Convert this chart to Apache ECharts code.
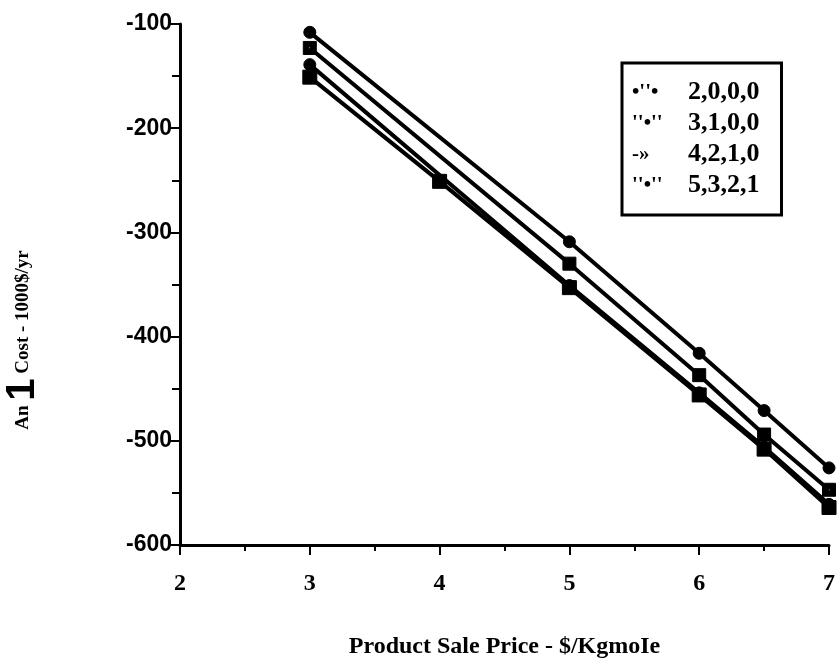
<!DOCTYPE html>
<html>
<head>
<meta charset="utf-8">
<script src="https://cdn.jsdelivr.net/npm/echarts@6/dist/echarts.min.js"></script>
<style>html,body{margin:0;padding:0;background:#fff}#c{width:838px;height:664px}</style>
</head>
<body>
<div id="c"></div>
<script>
// ---- data ----
const seriesNames = ["2,0,0,0", "3,1,0,0", "4,2,1,0", "5,3,2,1"];
const legendGlyphs = ["\u2022''\u2022", "''\u2022''", "-\u00bb", "''\u2022''"];
const price123 = [3, 5, 6, 6.5, 7];
const price4 = [3, 4, 5, 6, 6.5, 7];
const cost1 = [-108, -309, -416, -471, -526];
const cost2 = [-123, -330, -437, -494, -547];
const cost3 = [-139, -351, -454, -506, -561];
const cost4 = [-151, -251, -353, -456, -508, -564];
const xTitle = "Product Sale Price - $/KgmoIe";
const yTitleParts = ["An ", "1", " Cost - 1000$/yr"];

const zip = (xs, ys) => xs.map((x, i) => [x, ys[i]]);
const dotSquare = 'path://M0,0 L10,0 L10,10 L0,10 Z M4.2,4.2 L4.2,5.8 L5.8,5.8 L5.8,4.2 Z';
const symbols = ['circle', dotSquare, 'circle', 'rect'];
const sizes = [12, 13, 12, 14];
const dataSets = [zip(price123, cost1), zip(price123, cost2), zip(price123, cost3), zip(price4, cost4)];

const chart = echarts.init(document.getElementById('c'));
const serif = "'Liberation Serif', 'Times New Roman', serif";
const sans = "'Liberation Sans', Arial, sans-serif";

chart.setOption({
  animation: false,
  backgroundColor: '#fff',
  grid: { left: 180, right: 6, top: 24, bottom: 116 },
  xAxis: {
    type: 'value', min: 2, max: 7, interval: 1,
    name: xTitle, nameLocation: 'middle', nameGap: 90,
    nameTextStyle: { fontFamily: serif, fontWeight: 'bold', fontSize: 24, color: '#000' },
    axisLine: { lineStyle: { color: '#000', width: 3 } },
    axisTick: { show: true, inside: false, length: 10, lineStyle: { color: '#000', width: 2 } },
    minorTick: { show: true, splitNumber: 2, length: 6, lineStyle: { color: '#000', width: 2 } },
    splitLine: { show: false },
    axisLabel: { fontFamily: serif, fontWeight: 'bold', fontSize: 24, color: '#000', margin: 27 }
  },
  yAxis: {
    type: 'value', min: -600, max: -100, interval: 100,
    axisLine: { show: true, lineStyle: { color: '#000', width: 3 } },
    axisTick: { show: true, inside: false, length: 12, lineStyle: { color: '#000', width: 2 } },
    minorTick: { show: true, splitNumber: 2, length: 8, lineStyle: { color: '#000', width: 2 } },
    splitLine: { show: false },
    axisLabel: { fontFamily: sans, fontWeight: 'bold', fontSize: 23, color: '#000', margin: 8 }
  },
  legend: {
    orient: 'vertical', left: 622, top: 63,
    data: seriesNames,
    icon: 'rect', itemWidth: 1, itemHeight: 31, itemGap: 0,
    itemStyle: { opacity: 0 },
    padding: [14, 22, 14, 4],
    borderColor: '#000', borderWidth: 3,
    backgroundColor: '#fff',
    selectedMode: false,
    formatter: name => '{p|' + legendGlyphs[seriesNames.indexOf(name)] + '}{n|' + name + '}',
    textStyle: {
      lineHeight: 31,
      rich: {
        p: { fontFamily: serif, fontWeight: 'bold', fontSize: 21, width: 56, lineHeight: 31, color: '#000' },
        n: { fontFamily: serif, fontWeight: 'bold', fontSize: 26, lineHeight: 31, color: '#000' }
      }
    }
  },
  graphic: [{
    type: 'text', x: 23, y: 340, rotation: Math.PI / 2,
    style: {
      text: '{a|' + yTitleParts[0] + '}{b|' + yTitleParts[1] + '}{a|' + yTitleParts[2] + '}',
      align: 'center', verticalAlign: 'middle',
      rich: {
        a: { fontFamily: serif, fontWeight: 'bold', fontSize: 19, fill: '#000', verticalAlign: 'middle', lineHeight: 40 },
        b: { fontFamily: sans, fontWeight: 'bold', fontSize: 40, fill: '#000', verticalAlign: 'middle', lineHeight: 40 }
      }
    }
  }],
  series: dataSets.map((d, i) => ({
    name: seriesNames[i], type: 'line', data: d,
    symbol: symbols[i], symbolSize: sizes[i], showSymbol: true,
    lineStyle: { color: '#000', width: 4 },
    itemStyle: { color: '#000', borderColor: '#000' },
    z: 3 + i
  }))
});
</script>
</body>
</html>
